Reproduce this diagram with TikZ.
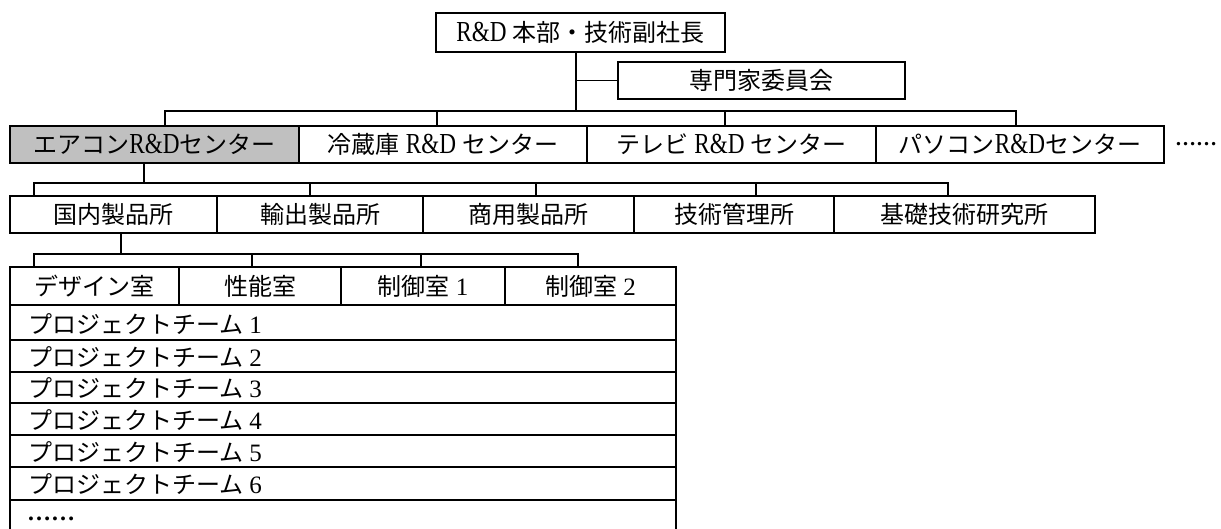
\documentclass[tikz,border=0pt]{standalone}
\usepackage{fontspec}
\setmainfont{Liberation Serif}
\newfontfamily\jpfont{Noto Sans CJK JP}
\newfontfamily\latnfont[FakeStretch=0.8]{Liberation Serif}
\newcommand\jpt[1]{{\jpfont #1}}
\newcommand\rdtxt{{\fontsize{29pt}{29pt}\latnfont R\&D}}
\newcommand\numtxt[1]{{\fontsize{25pt}{25pt}\selectfont #1}}
\definecolor{boxgray}{HTML}{C0C0C0}
\begin{document}
\begin{tikzpicture}[x=1pt,y=-1pt,
  orgbox/.style={draw, line width=1.6pt, inner sep=0pt, outer sep=0pt,
    font=\fontsize{24pt}{28pt}\selectfont, text height=18.5pt, text depth=0.5pt},
  conn/.style={line width=1.6pt},
  lbl/.style={inner sep=0pt, outer sep=0pt, anchor=west,
    font=\fontsize{24pt}{28pt}\selectfont, text height=18.5pt, text depth=0.5pt}]
\useasboundingbox (0,0) rectangle (1221,528);

% top level
\node[orgbox, minimum width=289pt, minimum height=39pt] (top) at (580.5,32.5) {\rdtxt\ \jpt{本部・技術副社長}};
\node[orgbox, minimum width=287pt, minimum height=37pt] (comm) at (761.5,80.5) {\jpt{専門家委員会}};

% centers
\node[orgbox, fill=boxgray, minimum width=289pt, minimum height=37pt] (aircon) at (154.5,144.5) {\jpt{エアコン}\rdtxt\jpt{センター}};
\node[orgbox, minimum width=288pt, minimum height=37pt] (fridge) at (443,144.5) {\jpt{冷蔵庫}\ \rdtxt\ \jpt{センター}};
\node[orgbox, minimum width=289pt, minimum height=37pt] (tv) at (731.5,144.5) {\jpt{テレビ}\ \rdtxt\ \jpt{センター}};
\node[orgbox, minimum width=288pt, minimum height=37pt] (pc) at (1020,144.5) {\jpt{パソコン}\rdtxt\jpt{センター}};
\node[inner sep=0pt, anchor=base west, font=\fontsize{21pt}{24pt}\bfseries] (moredots) at (1175,145) {……};

% institutes
\node[orgbox, minimum width=207pt, minimum height=37pt] (kokunai) at (113.5,214.5) {\jpt{国内製品所}};
\node[orgbox, minimum width=206pt, minimum height=37pt] (yushutsu) at (320,214.5) {\jpt{輸出製品所}};
\node[orgbox, minimum width=211pt, minimum height=37pt] (shoyo) at (528.5,214.5) {\jpt{商用製品所}};
\node[orgbox, minimum width=200pt, minimum height=37pt] (gijutsu) at (734,214.5) {\jpt{技術管理所}};
\node[orgbox, minimum width=261pt, minimum height=37pt] (kiso) at (964.5,214.5) {\jpt{基礎技術研究所}};

% rooms
\node[orgbox, minimum width=169pt, minimum height=38pt] (design) at (94.5,286) {\jpt{デザイン室}};
\node[orgbox, minimum width=162pt, minimum height=38pt] (seino) at (260,286) {\jpt{性能室}};
\node[orgbox, minimum width=164pt, minimum height=38pt] (seigyoA) at (423,286) {\jpt{制御室}\ \numtxt{1}};
\node[orgbox, minimum width=171pt, minimum height=38pt] (seigyoB) at (590.5,286) {\jpt{制御室}\ \numtxt{2}};

% project teams
\node[orgbox, minimum width=666pt, minimum height=35pt] (p1) at (343,322.5) {};
\node[orgbox, minimum width=666pt, minimum height=32pt] (p2) at (343,356) {};
\node[orgbox, minimum width=666pt, minimum height=31pt] (p3) at (343,387.5) {};
\node[orgbox, minimum width=666pt, minimum height=32pt] (p4) at (343,419) {};
\node[orgbox, minimum width=666pt, minimum height=32pt] (p5) at (343,451) {};
\node[orgbox, minimum width=666pt, minimum height=33pt] (p6) at (343,483.5) {};
\node[orgbox, minimum width=666pt, minimum height=30pt] (p7) at (343,515) {};
\node[lbl] (p1t) at ([xshift=18pt,yshift=-2pt]p1.west) {\jpt{プロジェクトチーム}\ \numtxt{1}};
\node[lbl] (p2t) at ([xshift=18pt,yshift=-1pt]p2.west) {\jpt{プロジェクトチーム}\ \numtxt{2}};
\node[lbl] (p3t) at ([xshift=18pt,yshift=-1pt]p3.west) {\jpt{プロジェクトチーム}\ \numtxt{3}};
\node[lbl] (p4t) at ([xshift=18pt,yshift=-1pt]p4.west) {\jpt{プロジェクトチーム}\ \numtxt{4}};
\node[lbl] (p5t) at ([xshift=18pt,yshift=-1pt]p5.west) {\jpt{プロジェクトチーム}\ \numtxt{5}};
\node[lbl] (p6t) at ([xshift=18pt,yshift=-1pt]p6.west) {\jpt{プロジェクトチーム}\ \numtxt{6}};
\node[inner sep=0pt, anchor=base west, font=\fontsize{24pt}{28pt}\bfseries] (p7t) at (27,520) {……};

% bus 1
\coordinate (t1) at (576,111);
\coordinate (b1l) at (165,111);
\coordinate (b1a) at (437,111);
\coordinate (b1b) at (725,111);
\coordinate (b1r) at (1016,111);
\draw[conn] (top.south -| t1) -- (t1);
\draw[conn] (comm.west -| t1) -- (comm.west);
\draw[conn] (aircon.north -| b1l) -- (b1l) -- (b1r) -- (pc.north -| b1r);
\draw[conn] (b1a) -- (fridge.north -| b1a);
\draw[conn] (b1b) -- (tv.north -| b1b);

% bus 2
\coordinate (t2) at (144,183);
\coordinate (b2l) at (34,183);
\coordinate (b2a) at (310,183);
\coordinate (b2b) at (536,183);
\coordinate (b2c) at (756,183);
\coordinate (b2r) at (948,183);
\draw[conn] (aircon.south -| t2) -- (t2);
\draw[conn] (kokunai.north -| b2l) -- (b2l) -- (b2r) -- (kiso.north -| b2r);
\draw[conn] (b2a) -- (yushutsu.north -| b2a);
\draw[conn] (b2b) -- (shoyo.north -| b2b);
\draw[conn] (b2c) -- (gijutsu.north -| b2c);

% bus 3
\coordinate (t3) at (121,254);
\coordinate (b3l) at (34,254);
\coordinate (b3a) at (252,254);
\coordinate (b3b) at (421,254);
\coordinate (b3r) at (578,254);
\draw[conn] (kokunai.south -| t3) -- (t3);
\draw[conn] (design.north -| b3l) -- (b3l) -- (b3r) -- (seigyoB.north -| b3r);
\draw[conn] (b3a) -- (seino.north -| b3a);
\draw[conn] (b3b) -- (seigyoA.north -| b3b);
\end{tikzpicture}
\end{document}
